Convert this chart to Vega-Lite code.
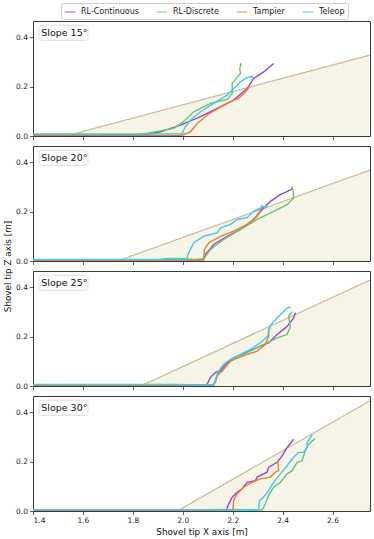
{
  "$schema": "https://vega.github.io/schema/vega-lite/v6.json",
  "padding": {"left": 3, "top": 2, "right": 4, "bottom": 0},
  "spacing": 10,
  "bounds": "flush",
  "config": {
    "font": "DejaVu Sans",
    "view": {"stroke": "#3a3a3a", "strokeWidth": 1},
    "axis": {"domain": false, "grid": false, "tickSize": 3.5, "tickColor": "#333", "tickWidth": 0.8, "labelFontSize": 7.5, "labelColor": "#222", "labelPadding": 2, "titleFontSize": 8.8, "titleFontWeight": "normal", "titleColor": "#111", "titlePadding": 3},
    "legend": {"labelFontSize": 8, "labelColor": "#222"}
  },
  "datasets": {
    "ground": [
      {"p": 15, "x": 1.4, "z": 0}, {"p": 15, "x": 1.53, "z": 0}, {"p": 15, "x": 2.75, "z": 0.327},
      {"p": 20, "x": 1.4, "z": 0}, {"p": 20, "x": 1.738, "z": 0}, {"p": 20, "x": 2.75, "z": 0.368},
      {"p": 25, "x": 1.4, "z": 0}, {"p": 25, "x": 1.831, "z": 0}, {"p": 25, "x": 2.75, "z": 0.428},
      {"p": 30, "x": 1.4, "z": 0}, {"p": 30, "x": 1.978, "z": 0}, {"p": 30, "x": 2.75, "z": 0.446}
    ],
    "labels": [
      {"p": 15, "label": "Slope 15°"}, {"p": 20, "label": "Slope 20°"}, {"p": 25, "label": "Slope 25°"}, {"p": 30, "label": "Slope 30°"}
    ],
    "traj": [
      {"p":15,"s":"RL-Continuous","x":1.40,"z":0.004},{"p":15,"s":"RL-Continuous","x":1.60,"z":0.004},{"p":15,"s":"RL-Continuous","x":1.80,"z":0.003},{"p":15,"s":"RL-Continuous","x":1.844,"z":0.004},{"p":15,"s":"RL-Continuous","x":1.911,"z":0.017},{"p":15,"s":"RL-Continuous","x":1.991,"z":0.044},{"p":15,"s":"RL-Continuous","x":2.071,"z":0.078},{"p":15,"s":"RL-Continuous","x":2.138,"z":0.112},{"p":15,"s":"RL-Continuous","x":2.204,"z":0.145},{"p":15,"s":"RL-Continuous","x":2.258,"z":0.192},{"p":15,"s":"RL-Continuous","x":2.284,"z":0.233},{"p":15,"s":"RL-Continuous","x":2.324,"z":0.259},{"p":15,"s":"RL-Continuous","x":2.364,"z":0.293},
      {"p":15,"s":"RL-Discrete","x":1.40,"z":0.005},{"p":15,"s":"RL-Discrete","x":1.70,"z":0.005},{"p":15,"s":"RL-Discrete","x":1.82,"z":0.006},{"p":15,"s":"RL-Discrete","x":1.858,"z":0.011},{"p":15,"s":"RL-Discrete","x":1.964,"z":0.031},{"p":15,"s":"RL-Discrete","x":1.998,"z":0.054},{"p":15,"s":"RL-Discrete","x":2.044,"z":0.098},{"p":15,"s":"RL-Discrete","x":2.111,"z":0.132},{"p":15,"s":"RL-Discrete","x":2.178,"z":0.148},{"p":15,"s":"RL-Discrete","x":2.198,"z":0.172},{"p":15,"s":"RL-Discrete","x":2.198,"z":0.212},{"p":15,"s":"RL-Discrete","x":2.211,"z":0.229},{"p":15,"s":"RL-Discrete","x":2.231,"z":0.253},{"p":15,"s":"RL-Discrete","x":2.228,"z":0.273},{"p":15,"s":"RL-Discrete","x":2.234,"z":0.29},{"p":15,"s":"RL-Discrete","x":2.229,"z":0.293},
      {"p":15,"s":"Tampier","x":1.40,"z":0.002},{"p":15,"s":"Tampier","x":1.80,"z":0.002},{"p":15,"s":"Tampier","x":1.99,"z":0.002},{"p":15,"s":"Tampier","x":1.998,"z":0.004},{"p":15,"s":"Tampier","x":2.031,"z":0.017},{"p":15,"s":"Tampier","x":2.058,"z":0.051},{"p":15,"s":"Tampier","x":2.098,"z":0.085},{"p":15,"s":"Tampier","x":2.151,"z":0.118},{"p":15,"s":"Tampier","x":2.204,"z":0.145},{"p":15,"s":"Tampier","x":2.224,"z":0.152},{"p":15,"s":"Tampier","x":2.251,"z":0.179},{"p":15,"s":"Tampier","x":2.264,"z":0.196},{"p":15,"s":"Tampier","x":2.268,"z":0.206},
      {"p":15,"s":"Teleop","x":1.40,"z":0.008},{"p":15,"s":"Teleop","x":1.80,"z":0.008},{"p":15,"s":"Teleop","x":1.995,"z":0.009},{"p":15,"s":"Teleop","x":1.998,"z":0.011},{"p":15,"s":"Teleop","x":2.007,"z":0.031},{"p":15,"s":"Teleop","x":2.031,"z":0.065},{"p":15,"s":"Teleop","x":2.071,"z":0.098},{"p":15,"s":"Teleop","x":2.124,"z":0.132},{"p":15,"s":"Teleop","x":2.178,"z":0.165},{"p":15,"s":"Teleop","x":2.204,"z":0.192},{"p":15,"s":"Teleop","x":2.231,"z":0.219},{"p":15,"s":"Teleop","x":2.258,"z":0.237},{"p":15,"s":"Teleop","x":2.278,"z":0.239},{"p":15,"s":"Teleop","x":2.27,"z":0.243},

      {"p":20,"s":"RL-Continuous","x":1.40,"z":0.003},{"p":20,"s":"RL-Continuous","x":1.80,"z":0.003},{"p":20,"s":"RL-Continuous","x":2.08,"z":0.003},{"p":20,"s":"RL-Continuous","x":2.084,"z":0.005},{"p":20,"s":"RL-Continuous","x":2.091,"z":0.027},{"p":20,"s":"RL-Continuous","x":2.124,"z":0.067},{"p":20,"s":"RL-Continuous","x":2.178,"z":0.1},{"p":20,"s":"RL-Continuous","x":2.231,"z":0.128},{"p":20,"s":"RL-Continuous","x":2.284,"z":0.168},{"p":20,"s":"RL-Continuous","x":2.318,"z":0.208},{"p":20,"s":"RL-Continuous","x":2.351,"z":0.241},{"p":20,"s":"RL-Continuous","x":2.391,"z":0.268},{"p":20,"s":"RL-Continuous","x":2.431,"z":0.288},{"p":20,"s":"RL-Continuous","x":2.438,"z":0.292},
      {"p":20,"s":"RL-Discrete","x":1.40,"z":0.004},{"p":20,"s":"RL-Discrete","x":1.90,"z":0.004},{"p":20,"s":"RL-Discrete","x":1.93,"z":0.009},{"p":20,"s":"RL-Discrete","x":1.99,"z":0.01},{"p":20,"s":"RL-Discrete","x":2.05,"z":0.006},{"p":20,"s":"RL-Discrete","x":2.084,"z":0.009},{"p":20,"s":"RL-Discrete","x":2.111,"z":0.047},{"p":20,"s":"RL-Discrete","x":2.164,"z":0.087},{"p":20,"s":"RL-Discrete","x":2.231,"z":0.128},{"p":20,"s":"RL-Discrete","x":2.298,"z":0.168},{"p":20,"s":"RL-Discrete","x":2.364,"z":0.201},{"p":20,"s":"RL-Discrete","x":2.418,"z":0.228},{"p":20,"s":"RL-Discrete","x":2.444,"z":0.255},{"p":20,"s":"RL-Discrete","x":2.442,"z":0.283},{"p":20,"s":"RL-Discrete","x":2.438,"z":0.302},
      {"p":20,"s":"Tampier","x":1.40,"z":0.002},{"p":20,"s":"Tampier","x":2.0,"z":0.002},{"p":20,"s":"Tampier","x":2.083,"z":0.003},{"p":20,"s":"Tampier","x":2.087,"z":0.047},{"p":20,"s":"Tampier","x":2.104,"z":0.074},{"p":20,"s":"Tampier","x":2.151,"z":0.1},{"p":20,"s":"Tampier","x":2.204,"z":0.121},{"p":20,"s":"Tampier","x":2.258,"z":0.148},{"p":20,"s":"Tampier","x":2.298,"z":0.181},{"p":20,"s":"Tampier","x":2.318,"z":0.221},{"p":20,"s":"Tampier","x":2.314,"z":0.225},
      {"p":20,"s":"Teleop","x":1.40,"z":0.006},{"p":20,"s":"Teleop","x":1.90,"z":0.006},{"p":20,"s":"Teleop","x":2.015,"z":0.006},{"p":20,"s":"Teleop","x":2.024,"z":0.034},{"p":20,"s":"Teleop","x":2.044,"z":0.074},{"p":20,"s":"Teleop","x":2.084,"z":0.1},{"p":20,"s":"Teleop","x":2.138,"z":0.114},{"p":20,"s":"Teleop","x":2.151,"z":0.134},{"p":20,"s":"Teleop","x":2.191,"z":0.148},{"p":20,"s":"Teleop","x":2.218,"z":0.168},{"p":20,"s":"Teleop","x":2.258,"z":0.175},{"p":20,"s":"Teleop","x":2.284,"z":0.201},{"p":20,"s":"Teleop","x":2.324,"z":0.221},{"p":20,"s":"Teleop","x":2.331,"z":0.214},{"p":20,"s":"Teleop","x":2.334,"z":0.226},{"p":20,"s":"Teleop","x":2.338,"z":0.22},

      {"p":25,"s":"RL-Continuous","x":1.40,"z":0.004},{"p":25,"s":"RL-Continuous","x":1.90,"z":0.004},{"p":25,"s":"RL-Continuous","x":2.09,"z":0.004},{"p":25,"s":"RL-Continuous","x":2.098,"z":0.008},{"p":25,"s":"RL-Continuous","x":2.111,"z":0.035},{"p":25,"s":"RL-Continuous","x":2.131,"z":0.055},{"p":25,"s":"RL-Continuous","x":2.151,"z":0.061},{"p":25,"s":"RL-Continuous","x":2.171,"z":0.088},{"p":25,"s":"RL-Continuous","x":2.204,"z":0.115},{"p":25,"s":"RL-Continuous","x":2.251,"z":0.135},{"p":25,"s":"RL-Continuous","x":2.298,"z":0.155},{"p":25,"s":"RL-Continuous","x":2.344,"z":0.175},{"p":25,"s":"RL-Continuous","x":2.378,"z":0.208},{"p":25,"s":"RL-Continuous","x":2.418,"z":0.241},{"p":25,"s":"RL-Continuous","x":2.444,"z":0.275},{"p":25,"s":"RL-Continuous","x":2.451,"z":0.297},
      {"p":25,"s":"RL-Discrete","x":1.40,"z":0.005},{"p":25,"s":"RL-Discrete","x":2.0,"z":0.005},{"p":25,"s":"RL-Discrete","x":2.10,"z":0.004},{"p":25,"s":"RL-Discrete","x":2.118,"z":0.004},{"p":25,"s":"RL-Discrete","x":2.131,"z":0.015},{"p":25,"s":"RL-Discrete","x":2.138,"z":0.048},{"p":25,"s":"RL-Discrete","x":2.158,"z":0.061},{"p":25,"s":"RL-Discrete","x":2.178,"z":0.088},{"p":25,"s":"RL-Discrete","x":2.198,"z":0.108},{"p":25,"s":"RL-Discrete","x":2.244,"z":0.128},{"p":25,"s":"RL-Discrete","x":2.298,"z":0.155},{"p":25,"s":"RL-Discrete","x":2.351,"z":0.181},{"p":25,"s":"RL-Discrete","x":2.378,"z":0.195},{"p":25,"s":"RL-Discrete","x":2.418,"z":0.208},{"p":25,"s":"RL-Discrete","x":2.431,"z":0.241},{"p":25,"s":"RL-Discrete","x":2.424,"z":0.281},{"p":25,"s":"RL-Discrete","x":2.438,"z":0.301},
      {"p":25,"s":"Tampier","x":1.40,"z":0.002},{"p":25,"s":"Tampier","x":2.10,"z":0.002},{"p":25,"s":"Tampier","x":2.124,"z":0.003},{"p":25,"s":"Tampier","x":2.138,"z":0.041},{"p":25,"s":"Tampier","x":2.164,"z":0.068},{"p":25,"s":"Tampier","x":2.191,"z":0.101},{"p":25,"s":"Tampier","x":2.224,"z":0.115},{"p":25,"s":"Tampier","x":2.258,"z":0.128},{"p":25,"s":"Tampier","x":2.298,"z":0.141},{"p":25,"s":"Tampier","x":2.331,"z":0.168},{"p":25,"s":"Tampier","x":2.344,"z":0.201},{"p":25,"s":"Tampier","x":2.344,"z":0.228},{"p":25,"s":"Tampier","x":2.351,"z":0.235},
      {"p":25,"s":"Teleop","x":1.40,"z":0.006},{"p":25,"s":"Teleop","x":1.95,"z":0.006},{"p":25,"s":"Teleop","x":2.12,"z":0.004},{"p":25,"s":"Teleop","x":2.124,"z":0.005},{"p":25,"s":"Teleop","x":2.131,"z":0.028},{"p":25,"s":"Teleop","x":2.144,"z":0.061},{"p":25,"s":"Teleop","x":2.164,"z":0.088},{"p":25,"s":"Teleop","x":2.191,"z":0.108},{"p":25,"s":"Teleop","x":2.231,"z":0.128},{"p":25,"s":"Teleop","x":2.271,"z":0.148},{"p":25,"s":"Teleop","x":2.311,"z":0.175},{"p":25,"s":"Teleop","x":2.34,"z":0.201},{"p":25,"s":"Teleop","x":2.348,"z":0.241},{"p":25,"s":"Teleop","x":2.378,"z":0.275},{"p":25,"s":"Teleop","x":2.411,"z":0.308},{"p":25,"s":"Teleop","x":2.424,"z":0.319},{"p":25,"s":"Teleop","x":2.432,"z":0.315},

      {"p":30,"s":"RL-Continuous","x":1.40,"z":0.003},{"p":30,"s":"RL-Continuous","x":1.60,"z":0.003},{"p":30,"s":"RL-Continuous","x":2.17,"z":0.003},{"p":30,"s":"RL-Continuous","x":2.175,"z":0.005},{"p":30,"s":"RL-Continuous","x":2.184,"z":0.029},{"p":30,"s":"RL-Continuous","x":2.198,"z":0.056},{"p":30,"s":"RL-Continuous","x":2.218,"z":0.076},{"p":30,"s":"RL-Continuous","x":2.238,"z":0.09},{"p":30,"s":"RL-Continuous","x":2.258,"z":0.116},{"p":30,"s":"RL-Continuous","x":2.291,"z":0.123},{"p":30,"s":"RL-Continuous","x":2.298,"z":0.137},{"p":30,"s":"RL-Continuous","x":2.338,"z":0.157},{"p":30,"s":"RL-Continuous","x":2.344,"z":0.177},{"p":30,"s":"RL-Continuous","x":2.378,"z":0.197},{"p":30,"s":"RL-Continuous","x":2.398,"z":0.223},{"p":30,"s":"RL-Continuous","x":2.418,"z":0.257},{"p":30,"s":"RL-Continuous","x":2.444,"z":0.29},
      {"p":30,"s":"RL-Discrete","x":1.40,"z":0.004},{"p":30,"s":"RL-Discrete","x":2.0,"z":0.004},{"p":30,"s":"RL-Discrete","x":2.2,"z":0.006},{"p":30,"s":"RL-Discrete","x":2.30,"z":0.004},{"p":30,"s":"RL-Discrete","x":2.318,"z":0.004},{"p":30,"s":"RL-Discrete","x":2.331,"z":0.029},{"p":30,"s":"RL-Discrete","x":2.344,"z":0.063},{"p":30,"s":"RL-Discrete","x":2.364,"z":0.096},{"p":30,"s":"RL-Discrete","x":2.391,"z":0.116},{"p":30,"s":"RL-Discrete","x":2.418,"z":0.15},{"p":30,"s":"RL-Discrete","x":2.438,"z":0.163},{"p":30,"s":"RL-Discrete","x":2.458,"z":0.197},{"p":30,"s":"RL-Discrete","x":2.478,"z":0.203},{"p":30,"s":"RL-Discrete","x":2.491,"z":0.243},{"p":30,"s":"RL-Discrete","x":2.504,"z":0.27},{"p":30,"s":"RL-Discrete","x":2.531,"z":0.293},
      {"p":30,"s":"Tampier","x":1.40,"z":0.003},{"p":30,"s":"Tampier","x":1.52,"z":0.003},{"p":30,"s":"Tampier","x":2.0,"z":0.002},{"p":30,"s":"Tampier","x":2.20,"z":0.002},{"p":30,"s":"Tampier","x":2.201,"z":0.004},{"p":30,"s":"Tampier","x":2.204,"z":0.043},{"p":30,"s":"Tampier","x":2.218,"z":0.07},{"p":30,"s":"Tampier","x":2.244,"z":0.096},{"p":30,"s":"Tampier","x":2.278,"z":0.116},{"p":30,"s":"Tampier","x":2.311,"z":0.13},{"p":30,"s":"Tampier","x":2.351,"z":0.137},{"p":30,"s":"Tampier","x":2.371,"z":0.157},{"p":30,"s":"Tampier","x":2.384,"z":0.163},{"p":30,"s":"Tampier","x":2.38,"z":0.203},
      {"p":30,"s":"Teleop","x":1.40,"z":0.005},{"p":30,"s":"Teleop","x":2.0,"z":0.005},{"p":30,"s":"Teleop","x":2.30,"z":0.004},{"p":30,"s":"Teleop","x":2.304,"z":0.006},{"p":30,"s":"Teleop","x":2.307,"z":0.043},{"p":30,"s":"Teleop","x":2.324,"z":0.056},{"p":30,"s":"Teleop","x":2.344,"z":0.083},{"p":30,"s":"Teleop","x":2.364,"z":0.116},{"p":30,"s":"Teleop","x":2.391,"z":0.15},{"p":30,"s":"Teleop","x":2.418,"z":0.183},{"p":30,"s":"Teleop","x":2.444,"z":0.217},{"p":30,"s":"Teleop","x":2.464,"z":0.237},{"p":30,"s":"Teleop","x":2.484,"z":0.237},{"p":30,"s":"Teleop","x":2.498,"z":0.257},{"p":30,"s":"Teleop","x":2.498,"z":0.277},{"p":30,"s":"Teleop","x":2.511,"z":0.297},{"p":30,"s":"Teleop","x":2.518,"z":0.31}
    ]
  },
  "vconcat": [
    {
      "width": 337, "height": 115,
      "layer": [
        {"data": {"name": "ground"}, "transform": [{"filter": "datum.p == 15"}], "mark": {"type": "area", "fill": "#f6f3e7", "clip": true},
         "encoding": {"x": {"field": "x", "type": "quantitative", "scale": {"domain": [1.4, 2.75], "nice": false, "zero": false}, "axis": {"values": [1.4,1.6,1.8,2.0,2.2,2.4,2.6], "format": ".1f", "labels": false, "title": null}},
                      "y": {"field": "z", "type": "quantitative", "scale": {"domain": [0, 0.465], "nice": false}, "axis": {"values": [0,0.1,0.2,0.3,0.4], "format": ".1f", "title": null}}}},
        {"data": {"name": "ground"}, "transform": [{"filter": "datum.p == 15"}], "mark": {"type": "line", "stroke": "#c8ba96", "strokeWidth": 1.2, "clip": true},
         "encoding": {"x": {"field": "x", "type": "quantitative"}, "y": {"field": "z", "type": "quantitative"}}},
        {"data": {"name": "traj"}, "transform": [{"filter": "datum.p == 15"}], "mark": {"type": "line", "strokeWidth": 1.4, "clip": true},
         "encoding": {"x": {"field": "x", "type": "quantitative"}, "y": {"field": "z", "type": "quantitative"}, "order": {"value": null},
                      "color": {"field": "s", "type": "nominal", "scale": {"domain": ["RL-Continuous", "RL-Discrete", "Tampier", "Teleop"], "range": ["#9a45cf", "#66c475", "#ee7b2c", "#40c8f0"]},
                                "legend": {"title": null, "orient": "none", "legendX": 28, "legendY": -18, "direction": "horizontal", "columns": 4, "symbolType": "stroke", "symbolSize": 110, "symbolStrokeWidth": 1.5, "symbolOpacity": 0.6, "labelOffset": 5, "columnPadding": 14, "padding": 3, "strokeColor": "#cccccc", "fillColor": "white", "cornerRadius": 2}}}},
        {"data": {"name": "labels"}, "transform": [{"filter": "datum.p == 15"}], "mark": {"type": "rect", "fill": "white", "stroke": "#d4d4d4", "strokeWidth": 0.8, "cornerRadius": 2.5},
         "encoding": {"x": {"datum": 1.424, "type": "quantitative"}, "x2": {"datum": 1.62}, "y": {"datum": 0.387, "type": "quantitative"}, "y2": {"datum": 0.448}}},
        {"data": {"name": "labels"}, "transform": [{"filter": "datum.p == 15"}], "mark": {"type": "text", "align": "left", "baseline": "middle", "fontSize": 9.5, "color": "#111"},
         "encoding": {"x": {"datum": 1.433, "type": "quantitative"}, "y": {"datum": 0.418, "type": "quantitative"}, "text": {"field": "label"}}}
      ]
    },
    {
      "width": 337, "height": 115,
      "layer": [
        {"data": {"name": "ground"}, "transform": [{"filter": "datum.p == 20"}], "mark": {"type": "area", "fill": "#f6f3e7", "clip": true},
         "encoding": {"x": {"field": "x", "type": "quantitative", "scale": {"domain": [1.4, 2.75], "nice": false, "zero": false}, "axis": {"values": [1.4,1.6,1.8,2.0,2.2,2.4,2.6], "format": ".1f", "labels": false, "title": null}},
                      "y": {"field": "z", "type": "quantitative", "scale": {"domain": [0, 0.465], "nice": false}, "axis": {"values": [0,0.1,0.2,0.3,0.4], "format": ".1f", "title": "Shovel tip Z axis [m]", "titleY": 120}}}},
        {"data": {"name": "ground"}, "transform": [{"filter": "datum.p == 20"}], "mark": {"type": "line", "stroke": "#c8ba96", "strokeWidth": 1.2, "clip": true},
         "encoding": {"x": {"field": "x", "type": "quantitative"}, "y": {"field": "z", "type": "quantitative"}}},
        {"data": {"name": "traj"}, "transform": [{"filter": "datum.p == 20"}], "mark": {"type": "line", "strokeWidth": 1.4, "clip": true},
         "encoding": {"x": {"field": "x", "type": "quantitative"}, "y": {"field": "z", "type": "quantitative"}, "order": {"value": null},
                      "color": {"field": "s", "type": "nominal", "scale": {"domain": ["RL-Continuous", "RL-Discrete", "Tampier", "Teleop"], "range": ["#9a45cf", "#66c475", "#ee7b2c", "#40c8f0"]}, "legend": null}}},
        {"data": {"name": "labels"}, "transform": [{"filter": "datum.p == 20"}], "mark": {"type": "rect", "fill": "white", "stroke": "#d4d4d4", "strokeWidth": 0.8, "cornerRadius": 2.5},
         "encoding": {"x": {"datum": 1.424, "type": "quantitative"}, "x2": {"datum": 1.62}, "y": {"datum": 0.387, "type": "quantitative"}, "y2": {"datum": 0.448}}},
        {"data": {"name": "labels"}, "transform": [{"filter": "datum.p == 20"}], "mark": {"type": "text", "align": "left", "baseline": "middle", "fontSize": 9.5, "color": "#111"},
         "encoding": {"x": {"datum": 1.433, "type": "quantitative"}, "y": {"datum": 0.418, "type": "quantitative"}, "text": {"field": "label"}}}
      ]
    },
    {
      "width": 337, "height": 115,
      "layer": [
        {"data": {"name": "ground"}, "transform": [{"filter": "datum.p == 25"}], "mark": {"type": "area", "fill": "#f6f3e7", "clip": true},
         "encoding": {"x": {"field": "x", "type": "quantitative", "scale": {"domain": [1.4, 2.75], "nice": false, "zero": false}, "axis": {"values": [1.4,1.6,1.8,2.0,2.2,2.4,2.6], "format": ".1f", "labels": false, "title": null}},
                      "y": {"field": "z", "type": "quantitative", "scale": {"domain": [0, 0.465], "nice": false}, "axis": {"values": [0,0.1,0.2,0.3,0.4], "format": ".1f", "title": null}}}},
        {"data": {"name": "ground"}, "transform": [{"filter": "datum.p == 25"}], "mark": {"type": "line", "stroke": "#c8ba96", "strokeWidth": 1.2, "clip": true},
         "encoding": {"x": {"field": "x", "type": "quantitative"}, "y": {"field": "z", "type": "quantitative"}}},
        {"data": {"name": "traj"}, "transform": [{"filter": "datum.p == 25"}], "mark": {"type": "line", "strokeWidth": 1.4, "clip": true},
         "encoding": {"x": {"field": "x", "type": "quantitative"}, "y": {"field": "z", "type": "quantitative"}, "order": {"value": null},
                      "color": {"field": "s", "type": "nominal", "scale": {"domain": ["RL-Continuous", "RL-Discrete", "Tampier", "Teleop"], "range": ["#9a45cf", "#66c475", "#ee7b2c", "#40c8f0"]}, "legend": null}}},
        {"data": {"name": "labels"}, "transform": [{"filter": "datum.p == 25"}], "mark": {"type": "rect", "fill": "white", "stroke": "#d4d4d4", "strokeWidth": 0.8, "cornerRadius": 2.5},
         "encoding": {"x": {"datum": 1.424, "type": "quantitative"}, "x2": {"datum": 1.62}, "y": {"datum": 0.387, "type": "quantitative"}, "y2": {"datum": 0.448}}},
        {"data": {"name": "labels"}, "transform": [{"filter": "datum.p == 25"}], "mark": {"type": "text", "align": "left", "baseline": "middle", "fontSize": 9.5, "color": "#111"},
         "encoding": {"x": {"datum": 1.433, "type": "quantitative"}, "y": {"datum": 0.418, "type": "quantitative"}, "text": {"field": "label"}}}
      ]
    },
    {
      "width": 337, "height": 115,
      "layer": [
        {"data": {"name": "ground"}, "transform": [{"filter": "datum.p == 30"}], "mark": {"type": "area", "fill": "#f6f3e7", "clip": true},
         "encoding": {"x": {"field": "x", "type": "quantitative", "scale": {"domain": [1.4, 2.75], "nice": false, "zero": false}, "axis": {"values": [1.4,1.6,1.8,2.0,2.2,2.4,2.6], "format": ".1f", "title": "Shovel tip X axis [m]"}},
                      "y": {"field": "z", "type": "quantitative", "scale": {"domain": [0, 0.465], "nice": false}, "axis": {"values": [0,0.1,0.2,0.3,0.4], "format": ".1f", "title": null}}}},
        {"data": {"name": "ground"}, "transform": [{"filter": "datum.p == 30"}], "mark": {"type": "line", "stroke": "#c8ba96", "strokeWidth": 1.2, "clip": true},
         "encoding": {"x": {"field": "x", "type": "quantitative"}, "y": {"field": "z", "type": "quantitative"}}},
        {"data": {"name": "traj"}, "transform": [{"filter": "datum.p == 30"}], "mark": {"type": "line", "strokeWidth": 1.4, "clip": true},
         "encoding": {"x": {"field": "x", "type": "quantitative"}, "y": {"field": "z", "type": "quantitative"}, "order": {"value": null},
                      "color": {"field": "s", "type": "nominal", "scale": {"domain": ["RL-Continuous", "RL-Discrete", "Tampier", "Teleop"], "range": ["#9a45cf", "#66c475", "#ee7b2c", "#40c8f0"]}, "legend": null}}},
        {"data": {"name": "labels"}, "transform": [{"filter": "datum.p == 30"}], "mark": {"type": "rect", "fill": "white", "stroke": "#d4d4d4", "strokeWidth": 0.8, "cornerRadius": 2.5},
         "encoding": {"x": {"datum": 1.424, "type": "quantitative"}, "x2": {"datum": 1.62}, "y": {"datum": 0.387, "type": "quantitative"}, "y2": {"datum": 0.448}}},
        {"data": {"name": "labels"}, "transform": [{"filter": "datum.p == 30"}], "mark": {"type": "text", "align": "left", "baseline": "middle", "fontSize": 9.5, "color": "#111"},
         "encoding": {"x": {"datum": 1.433, "type": "quantitative"}, "y": {"datum": 0.418, "type": "quantitative"}, "text": {"field": "label"}}}
      ]
    }
  ]
}
